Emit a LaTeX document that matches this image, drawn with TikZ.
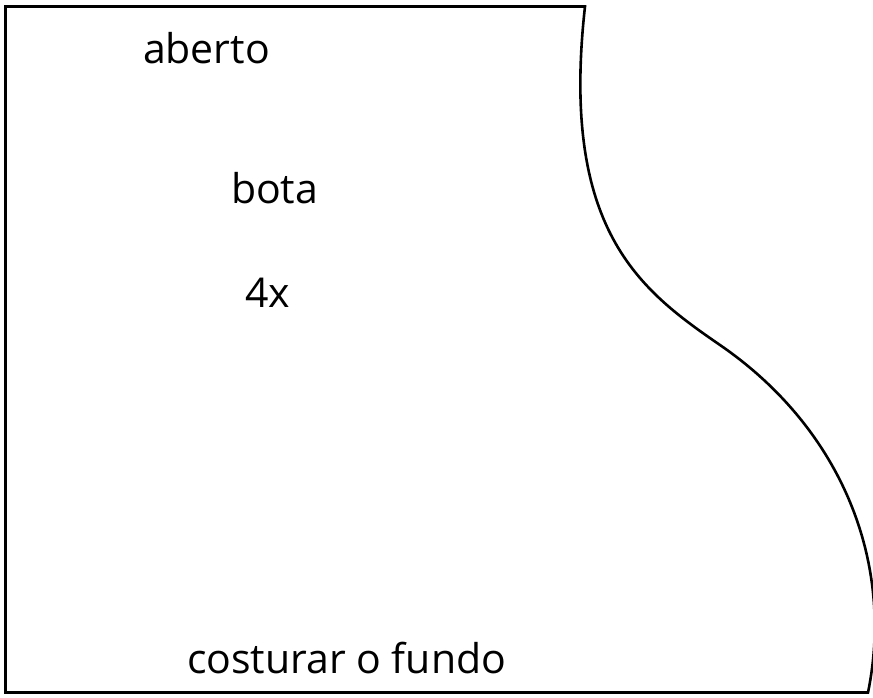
\documentclass[tikz,border=0pt]{standalone}
\usepackage{fontspec}
\setmainfont{Open Sans}
\begin{document}
\begin{tikzpicture}[x=1pt,y=-1pt,
  outline/.style={draw=black,line width=2.6pt,line join=miter},
  lbl/.style={inner sep=0pt,outer sep=0pt,anchor=base west,font=\fontsize{41}{48}\selectfont}]
\useasboundingbox (0,0) rectangle (873,697);
\draw[outline] (5.5,6.5) -- (585,6.5)
  .. controls (560,230) and (640,290) .. (720,345)
  .. controls (840,427.5) and (895,560) .. (868,692.5)
  -- (5.5,692.5) -- cycle;
\node[lbl] (aberto) at (143,63) {aberto};
\node[lbl] (bota) at (231,203) {bota};
\node[lbl] (vezes) at (245,307) {4x};
\node[lbl] (fundo) at (187,673) {costurar o fundo};
\end{tikzpicture}
\end{document}
